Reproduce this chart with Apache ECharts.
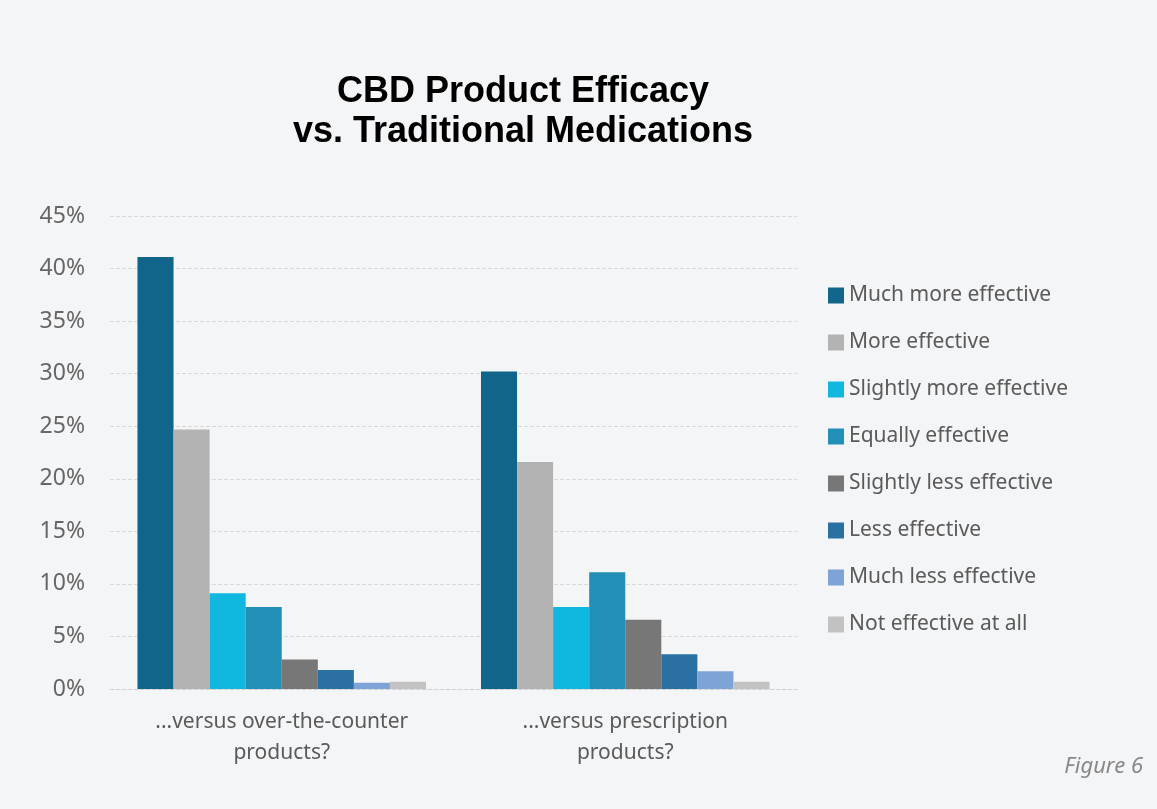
<!DOCTYPE html>
<html>
<head>
<meta charset="utf-8">
<script src="https://cdn.jsdelivr.net/npm/echarts@6/dist/echarts.min.js"></script>
<style>
  html, body { margin: 0; padding: 0; background: #f4f5f7; }
  #chart { width: 1157px; height: 809px; }
</style>
</head>
<body>
<div id="chart"></div>
<script>
var categories = ['...versus over-the-counter\nproducts?', '...versus prescription\nproducts?'];
var seriesNames = ['Much more effective', 'More effective', 'Slightly more effective', 'Equally effective',
  'Slightly less effective', 'Less effective', 'Much less effective', 'Not effective at all'];
var colors = ['#11658a', '#b3b3b3', '#10b8e0', '#228fb7', '#777777', '#2a70a3', '#7ea3d6', '#c2c2c2'];
// percent values, [over-the-counter, prescription]
var muchMore = [41.1, 30.2];
var more = [24.7, 21.6];
var slightlyMore = [9.1, 7.8];
var equally = [7.8, 11.1];
var slightlyLess = [2.8, 6.6];
var less = [1.8, 3.3];
var muchLess = [0.6, 1.7];
var notAtAll = [0.7, 0.7];
var yTicks = [0, 5, 10, 15, 20, 25, 30, 35, 40, 45];

var values = [muchMore, more, slightlyMore, equally, slightlyLess, less, muchLess, notAtAll];
var font = '"Noto Sans", sans-serif';

var chart = echarts.init(document.getElementById('chart'));

var series = seriesNames.map(function (name, i) {
  return {
    name: name,
    type: 'bar',
    data: values[i],
    barGap: '0%',
    barCategoryGap: '16%',
    itemStyle: { color: colors[i] }
  };
});

chart.setOption({
  backgroundColor: '#f4f5f7',
  animation: false,
  color: colors,
  title: {
    text: 'CBD Product Efficacy\nvs. Traditional Medications',
    left: 518,
    top: 67,
    textAlign: 'center',
    textStyle: {
      fontFamily: '"Liberation Sans", Arial, sans-serif',
      fontWeight: 'bold',
      fontSize: 36,
      lineHeight: 40,
      color: '#000'
    }
  },
  legend: {
    orient: 'vertical',
    left: 828,
    top: 285,
    padding: 0,
    itemWidth: 16,
    itemHeight: 16,
    itemGap: 26,
    icon: 'rect',
    data: seriesNames,
    textStyle: {
      fontFamily: font,
      fontSize: 21,
      color: '#5a5a5a',
      padding: [0, 0, 0, 0]
    }
  },
  grid: { left: 110, right: 360, top: 216, bottom: 120 },
  xAxis: {
    type: 'category',
    data: categories,
    axisTick: { show: false },
    axisLine: { show: true, lineStyle: { color: '#d2d2d2', type: 'dashed' } },
    axisLabel: {
      margin: 18,
      fontFamily: font,
      fontSize: 21,
      lineHeight: 31,
      color: '#5a5a5a'
    }
  },
  yAxis: {
    type: 'value',
    min: yTicks[0],
    max: yTicks[yTicks.length - 1],
    interval: 5,
    axisLine: { show: false },
    axisTick: { show: false },
    splitLine: { lineStyle: { color: '#d9d9d9', type: 'dashed' } },
    axisLabel: {
      margin: 25,
      fontFamily: font,
      fontSize: 23,
      color: '#666666',
      formatter: '{value}%'
    }
  },
  graphic: [{
    type: 'text',
    right: 14,
    top: 756,
    style: {
      text: 'Figure 6',
      fontFamily: font,
      fontStyle: 'italic',
      fontSize: 22,
      fill: '#888888'
    }
  }],
  series: series
});
</script>
</body>
</html>
